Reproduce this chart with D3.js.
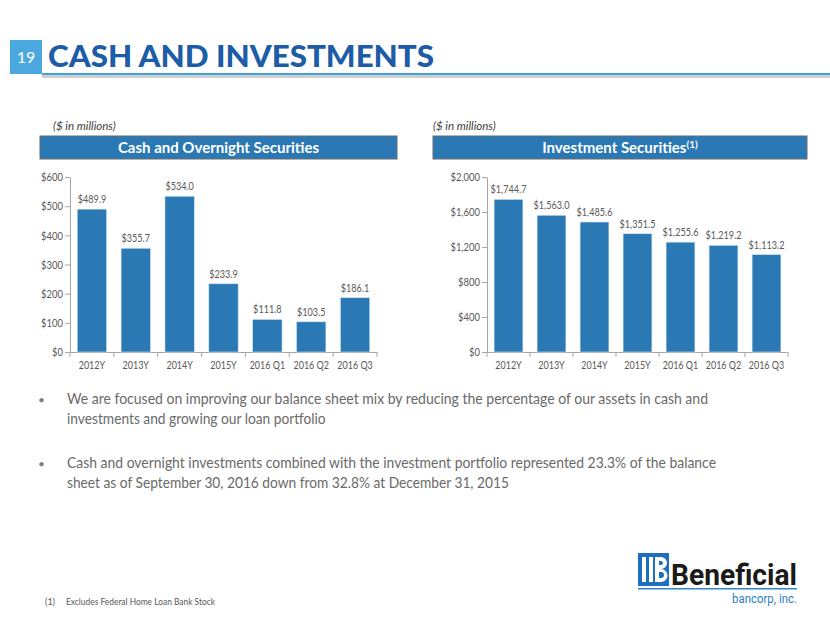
<!DOCTYPE html>
<html><head><meta charset="utf-8">
<script src="https://cdn.jsdelivr.net/npm/d3@7"></script>
<style>
html,body{margin:0;padding:0;background:#fff;}
svg{display:block;font-family:Lato,"Open Sans",sans-serif;}
</style></head>
<body>
<svg id="c" width="830" height="623"></svg>
<script>
// ---- data ----
const categories = ["2012Y","2013Y","2014Y","2015Y","2016 Q1","2016 Q2","2016 Q3"];
const cashValues = [489.9,355.7,534.0,233.9,111.8,103.5,186.1];
const investValues = [1744.7,1563.0,1485.6,1351.5,1255.6,1219.2,1113.2];
const cashTicks = [0,100,200,300,400,500,600];
const investTicks = [0,400,800,1200,1600,2000];
const pageTitle = "CASH AND INVESTMENTS";
const pageNumber = "19";
const bullets = [
  ["We are focused on improving our balance sheet mix by reducing the percentage of our assets in cash and",
   "investments and growing our loan portfolio"],
  ["Cash and overnight investments combined with the investment portfolio represented 23.3% of the balance",
   "sheet as of September 30, 2016 down from 32.8% at December 31, 2015"]
];
const footnote = "Excludes Federal Home Loan Bank Stock";

const svg = d3.select("#c");
const BAR = "#2A78B4", GRAY = "#595959", AX = "#A6A6A6";

function fitText(sel, w){
  sel.attr("textLength", w).attr("lengthAdjust","spacingAndGlyphs");
  return sel;
}
function squeeze(sel, f){
  sel.each(function(){
    const l = this.getComputedTextLength();
    if (l > 0) d3.select(this).attr("textLength", l*f).attr("lengthAdjust","spacingAndGlyphs");
  });
  return sel;
}

// ---- header ----
svg.append("rect").attr("x",10).attr("y",40).attr("width",32).attr("height",34).attr("fill","#4BA8DE");
svg.append("text").attr("x",26).attr("y",63).attr("text-anchor","middle").attr("fill","#fff")
  .attr("font-family","Lato").attr("font-size",16).text(pageNumber);
svg.append("rect").attr("x",42).attr("y",75).attr("width",788).attr("height",3).attr("fill","#d0d0d0");
svg.append("rect").attr("x",42).attr("y",73).attr("width",788).attr("height",2).attr("fill","#3FA3DC");
fitText(svg.append("text").attr("x",48).attr("y",67).attr("fill","#1D5CA6")
  .attr("font-family","Lato").attr("font-weight",900).attr("font-size",31).text(pageTitle), 386);

// ---- charts ----
function chart(o){
  const g = svg.append("g");
  g.append("text").attr("x",o.noteX).attr("y",130).attr("fill","#404040")
    .attr("font-style","italic").attr("font-size",11.5).text("($ in millions)");
  g.append("rect").attr("x",o.hx0).attr("y",136).attr("width",o.hx1-o.hx0).attr("height",23)
    .attr("fill",BAR).attr("stroke","#6b6b6b").attr("stroke-width",1);
  const t = g.append("text").attr("x",(o.hx0+o.hx1)/2).attr("y",153).attr("text-anchor","middle")
    .attr("fill","#fff").attr("font-weight",700).attr("font-size",15);
  t.append("tspan").text(o.title);
  if (o.sup) t.append("tspan").attr("font-size",10).attr("dy",-5).text(o.sup);

  const x = d3.scaleBand().domain(categories).range([o.x0,o.x1]).paddingInner(0.33).paddingOuter(0.165);
  const y = d3.scaleLinear().domain([0,o.ticks[o.ticks.length-1]]).range([352,177]);

  const ya = d3.axisLeft(y).tickValues(o.ticks).tickSize(5).tickSizeOuter(0)
    .tickFormat(d=>"$"+d3.format(",")(d));
  const yg = g.append("g").attr("transform",`translate(${o.x0},0)`).call(ya);
  yg.select(".domain").attr("stroke",AX);
  yg.selectAll(".tick line").attr("stroke",AX);
  squeeze(yg.selectAll(".tick text").attr("fill",GRAY).attr("font-size",11.5).attr("font-family","Lato").attr("x",-7), 0.82);

  g.append("line").attr("x1",o.x0).attr("x2",o.x1).attr("y1",352.5).attr("y2",352.5).attr("stroke",AX);
  const step = x.step(), off = (step - x.bandwidth())/2;
  const bounds = categories.map(c=>x(c)-off).concat([o.x1]);
  g.selectAll(".xt").data(bounds).join("line").attr("x1",d=>d).attr("x2",d=>d)
    .attr("y1",352).attr("y2",357).attr("stroke",AX);

  g.selectAll(".bar").data(o.values).join("rect")
    .attr("x",(d,i)=>x(categories[i])).attr("width",x.bandwidth())
    .attr("y",d=>y(d)).attr("height",d=>y(0)-y(d)).attr("fill",BAR)
    .attr("stroke","#d6e6f2").attr("stroke-width",0.6);

  squeeze(g.selectAll(".vl").data(o.values).join("text")
    .attr("x",(d,i)=>x(categories[i])+x.bandwidth()/2).attr("y",d=>y(d)-6)
    .attr("text-anchor","middle").attr("fill",GRAY).attr("font-size",11.8)
    .text(d=>"$"+d3.format(",.1f")(d)), 0.77);

  squeeze(g.selectAll(".cl").data(categories).join("text")
    .attr("x",d=>x(d)+x.bandwidth()/2).attr("y",369).attr("text-anchor","middle")
    .attr("fill",GRAY).attr("font-size",10.8).text(d=>d), 0.83);
}
chart({noteX:53,hx0:40,hx1:397,title:"Cash and Overnight Securities",x0:70,x1:377,values:cashValues,ticks:cashTicks});
chart({noteX:433,hx0:433,hx1:807,title:"Investment Securities",sup:"(1)",x0:487,x1:788,values:investValues,ticks:investTicks});

// ---- bullets ----
const by = [[404,424],[468,488]];
const bw = [[641,null],[649,null]];
bullets.forEach((b,i)=>{
  svg.append("text").attr("x",38).attr("y",by[i][0]).attr("fill","#7f7f7f").attr("font-size",12).text("•");
  b.forEach((line,j)=>{
    const t = svg.append("text").attr("x",67).attr("y",by[i][j]).attr("fill","#6a6a6a")
      .attr("font-size",15).text(line);
    if (bw[i][j]) fitText(t,bw[i][j]); else squeeze(t, 641/700);
  });
});

// ---- footnote ----
svg.append("text").attr("x",45).attr("y",605).attr("fill","#595959").attr("font-size",9).text("(1)");
fitText(svg.append("text").attr("x",66).attr("y",605).attr("fill","#595959").attr("font-size",9).text(footnote),149);

// ---- logo ----
const lg = svg.append("g");
lg.append("rect").attr("x",638).attr("y",553).attr("width",31).attr("height",33).attr("fill","#1E6FC0");
[642,649].forEach(xx=>lg.append("rect").attr("x",xx).attr("y",557).attr("width",4).attr("height",25).attr("fill","#fff"));
lg.append("path").attr("d","M655 557 h6 a6 6 0 0 1 0 12 a6.5 6.5 0 0 1 0 13 h-6z M659 561 v4 h2 a2 2 0 0 0 0 -4z M659 572 v6 h2 a3 3 0 0 0 0 -6z")
  .attr("fill","#fff").attr("fill-rule","evenodd");
fitText(lg.append("text").attr("x",671).attr("y",585).attr("fill","#1a1a1a").attr("font-family","Roboto")
  .attr("font-weight",700).attr("font-size",30).text("Beneficial"),126);
lg.append("rect").attr("x",638).attr("y",588).attr("width",159).attr("height",1.5).attr("fill","#2E86D0");
fitText(lg.append("text").attr("x",732).attr("y",603).attr("fill","#2E7FC6").attr("font-family","Roboto")
  .attr("font-size",12.5).text("bancorp, inc."),65);
</script>
</body></html>
